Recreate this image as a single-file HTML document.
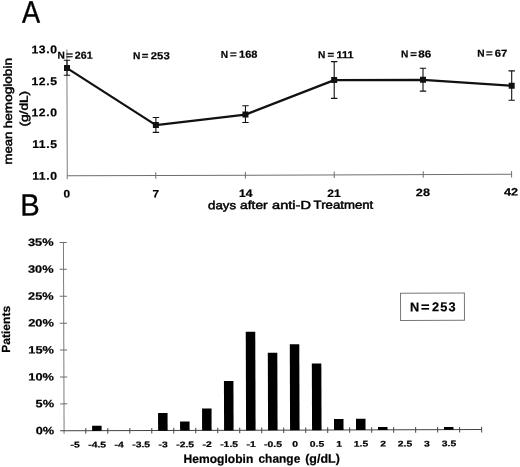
<!DOCTYPE html>
<html><head><meta charset="utf-8"><title>Figure</title>
<style>html,body{margin:0;padding:0;background:#fff;}svg{display:block;will-change:transform;}text{font-family:"Liberation Sans", sans-serif;fill:#000;}.b{font-weight:bold;stroke:#000;stroke-width:0.2;}.t{font-weight:normal;stroke:#000;stroke-width:0.48;}.ax{stroke:#6e6e6e;stroke-width:1;fill:none;}.ay{stroke:#7c7c7c;stroke-width:1;fill:none;}.axd{stroke:#444;stroke-width:1;fill:none;}.eb{stroke:#111;stroke-width:1.1;fill:none;}</style></head><body>
<svg width="520" height="467" viewBox="0 0 520 467">
<rect width="520" height="467" fill="#fff"/>
<g transform="rotate(-0.1891)">
<text transform="translate(21.92 22.87) scale(0.870 1)" font-size="31.20" text-anchor="start" stroke="#000" stroke-width="0.35">A</text>
<text transform="translate(19.49 215.67) scale(0.960 1)" font-size="30.50" text-anchor="start" stroke="#000" stroke-width="0.3">B</text>
<path class="ay" d="M66.70 49.40 V179.40"/>
<path class="ax" d="M66.70 176.00 H511.00"/>
<path class="ax" d="M155.17 172.70 V179.20M244.82 172.70 V179.20M333.67 172.70 V179.20M422.67 172.70 V179.20M511.02 172.70 V179.20"/>
<text class="b" transform="translate(57.42 53.49) scale(1.090 1)" font-size="11.20" text-anchor="end" letter-spacing="0.55">13.0</text>
<text class="b" transform="translate(57.32 85.29) scale(1.090 1)" font-size="11.20" text-anchor="end" letter-spacing="0.55">12.5</text>
<text class="b" transform="translate(57.22 116.49) scale(1.090 1)" font-size="11.20" text-anchor="end" letter-spacing="0.55">12.0</text>
<text class="b" transform="translate(57.11 148.19) scale(1.090 1)" font-size="11.20" text-anchor="end" letter-spacing="0.55">11.5</text>
<text class="b" transform="translate(57.01 179.89) scale(1.090 1)" font-size="11.20" text-anchor="end" letter-spacing="0.55">11.0</text>
<path class="eb" d="M66.80 60.52 L66.75 75.52 M63.60 60.52 H70.00 M63.55 75.52 H69.95M155.51 118.01 L155.46 132.91 M152.31 118.01 H158.71 M152.26 132.91 H158.66M245.10 106.61 L245.05 123.31 M241.90 106.61 H248.30 M241.85 123.31 H248.25M334.00 62.70 L333.88 99.50 M330.80 62.70 H337.20 M330.68 99.50 H337.08M422.77 69.70 L422.70 92.50 M419.57 69.70 H425.97 M419.50 92.50 H425.90M511.47 72.59 L511.37 101.89 M508.27 72.59 H514.67 M508.17 101.89 H514.57"/>
<polyline fill="none" stroke="#111" stroke-width="2.25" stroke-linejoin="round" points="66.78,68.32 155.49,125.61 245.07,115.41 333.94,81.20 422.74,81.20 511.42,87.39"/>
<rect x="63.78" y="65.32" width="6" height="6" fill="#111"/>
<rect x="152.49" y="122.61" width="6" height="6" fill="#111"/>
<rect x="242.07" y="112.41" width="6" height="6" fill="#111"/>
<rect x="330.94" y="78.20" width="6" height="6" fill="#111"/>
<rect x="419.74" y="78.20" width="6" height="6" fill="#111"/>
<rect x="508.42" y="84.39" width="6" height="6" fill="#111"/>
<text class="b" font-size="10.2" y="58.99"><tspan x="57.26">N</tspan><tspan x="66.16" textLength="6.7" lengthAdjust="spacingAndGlyphs">=</tspan><tspan x="74.61" textLength="17.86" lengthAdjust="spacingAndGlyphs">261</tspan></text>
<text class="b" font-size="10.2" y="59.74"><tspan x="132.70">N</tspan><tspan x="141.65" textLength="6.7" lengthAdjust="spacingAndGlyphs">=</tspan><tspan x="150.60" textLength="18.97" lengthAdjust="spacingAndGlyphs">253</tspan></text>
<text class="b" font-size="10.2" y="58.63"><tspan x="220.56">N</tspan><tspan x="229.76" textLength="6.7" lengthAdjust="spacingAndGlyphs">=</tspan><tspan x="238.91" textLength="18.37" lengthAdjust="spacingAndGlyphs">168</tspan></text>
<text class="b" font-size="10.2" y="59.35"><tspan x="317.76">N</tspan><tspan x="327.26" textLength="6.7" lengthAdjust="spacingAndGlyphs">=</tspan><tspan x="336.41" textLength="16.96" lengthAdjust="spacingAndGlyphs">111</tspan></text>
<text class="b" font-size="10.2" y="58.93"><tspan x="400.76">N</tspan><tspan x="410.06" textLength="6.7" lengthAdjust="spacingAndGlyphs">=</tspan><tspan x="418.01" textLength="12.96" lengthAdjust="spacingAndGlyphs">86</tspan></text>
<text class="b" font-size="10.2" y="58.38"><tspan x="477.06">N</tspan><tspan x="485.86" textLength="6.7" lengthAdjust="spacingAndGlyphs">=</tspan><tspan x="494.61" textLength="12.57" lengthAdjust="spacingAndGlyphs">67</tspan></text>
<text class="b" transform="translate(66.15 197.72) scale(1.100 1)" font-size="10.80" text-anchor="middle">0</text>
<text class="b" transform="translate(155.25 198.01) scale(1.100 1)" font-size="10.80" text-anchor="middle">7</text>
<text class="b" transform="translate(245.00 197.91) scale(1.120 1)" font-size="10.80" text-anchor="middle">14</text>
<text class="b" transform="translate(333.30 198.00) scale(1.120 1)" font-size="10.80" text-anchor="middle">21</text>
<text class="b" transform="translate(422.25 197.50) scale(1.180 1)" font-size="10.80" text-anchor="middle">28</text>
<text class="b" transform="translate(510.45 197.29) scale(1.180 1)" font-size="10.80" text-anchor="middle">42</text>
<text class="t" transform="translate(207.96 209.89)" font-size="11.60"><tspan x="-0.58" textLength="28.01" lengthAdjust="spacingAndGlyphs">days</tspan> <tspan x="31.47" textLength="27.56" lengthAdjust="spacingAndGlyphs">after</tspan> <tspan x="63.47" textLength="38.86" lengthAdjust="spacingAndGlyphs">anti-D</tspan> <tspan x="104.97" textLength="59.66" lengthAdjust="spacingAndGlyphs">Treatment</tspan></text>
<text class="t" transform="translate(11.56 164.04) rotate(-90)" font-size="11.60"><tspan x="-0.58" textLength="33.06" lengthAdjust="spacingAndGlyphs">mean</tspan> <tspan x="35.72" textLength="70.26" lengthAdjust="spacingAndGlyphs">hemoglobin</tspan></text>
<text class="t" transform="translate(27.48 126.59) rotate(-90)" font-size="11.4" textLength="35.6" lengthAdjust="spacingAndGlyphs">(g/dL)</text>
<path class="ay" d="M62.65 242.63 V434.20"/>
<path class="axd" d="M58.75 431.00 H480.21"/>
<path class="axd" d="M84.39 428.40 V434.00M106.38 428.40 V434.00M128.37 428.40 V434.00M150.36 428.40 V434.00M172.35 428.40 V434.00M194.34 428.40 V434.00M216.33 428.40 V434.00M238.32 428.40 V434.00M260.31 428.40 V434.00M282.30 428.40 V434.00M304.29 428.40 V434.00M326.28 428.40 V434.00M348.27 428.40 V434.00M370.26 428.40 V434.00M392.25 428.40 V434.00M414.24 428.40 V434.00M436.23 428.40 V434.00M458.22 428.40 V434.00M480.21 428.40 V434.00"/>
<path class="ax" d="M58.75 404.09 H65.95M58.75 377.18 H65.95M58.75 350.27 H65.95M58.75 323.36 H65.95M58.75 296.45 H65.95M58.75 269.54 H65.95M58.75 242.63 H65.95"/>
<text class="b" transform="translate(52.75 434.35) scale(1.210 1)" font-size="10.60" text-anchor="end">0%</text>
<text class="b" transform="translate(52.75 407.44) scale(1.210 1)" font-size="10.60" text-anchor="end">5%</text>
<text class="b" transform="translate(52.75 380.53) scale(1.210 1)" font-size="10.60" text-anchor="end">10%</text>
<text class="b" transform="translate(52.75 353.62) scale(1.210 1)" font-size="10.60" text-anchor="end">15%</text>
<text class="b" transform="translate(52.75 326.71) scale(1.210 1)" font-size="10.60" text-anchor="end">20%</text>
<text class="b" transform="translate(52.75 299.80) scale(1.210 1)" font-size="10.60" text-anchor="end">25%</text>
<text class="b" transform="translate(52.75 272.89) scale(1.210 1)" font-size="10.60" text-anchor="end">30%</text>
<text class="b" transform="translate(52.75 245.98) scale(1.210 1)" font-size="10.60" text-anchor="end">35%</text>
<rect x="90.73" y="426.07" width="9.5" height="5.13" fill="#000"/>
<rect x="156.70" y="413.54" width="9.5" height="17.66" fill="#000"/>
<rect x="178.69" y="422.11" width="9.5" height="9.09" fill="#000"/>
<rect x="200.69" y="409.18" width="9.5" height="22.02" fill="#000"/>
<rect x="222.67" y="381.75" width="9.5" height="49.45" fill="#000"/>
<rect x="244.66" y="332.58" width="9.5" height="98.62" fill="#000"/>
<rect x="266.65" y="353.65" width="9.5" height="77.55" fill="#000"/>
<rect x="288.64" y="345.22" width="9.5" height="85.98" fill="#000"/>
<rect x="310.63" y="364.54" width="9.5" height="66.66" fill="#000"/>
<rect x="332.62" y="420.12" width="9.5" height="11.08" fill="#000"/>
<rect x="354.61" y="419.94" width="9.5" height="11.26" fill="#000"/>
<rect x="376.60" y="428.26" width="9.5" height="2.94" fill="#000"/>
<rect x="442.57" y="428.38" width="9.5" height="2.82" fill="#000"/>
<text class="b" transform="translate(73.69 447.80) scale(1.270 1)" font-size="8.20" text-anchor="middle">-5</text>
<text class="b" transform="translate(95.68 447.80) scale(1.270 1)" font-size="8.20" text-anchor="middle">-4.5</text>
<text class="b" transform="translate(117.67 447.80) scale(1.270 1)" font-size="8.20" text-anchor="middle">-4</text>
<text class="b" transform="translate(139.66 447.80) scale(1.270 1)" font-size="8.20" text-anchor="middle">-3.5</text>
<text class="b" transform="translate(161.66 447.80) scale(1.270 1)" font-size="8.20" text-anchor="middle">-3</text>
<text class="b" transform="translate(183.65 447.80) scale(1.270 1)" font-size="8.20" text-anchor="middle">-2.5</text>
<text class="b" transform="translate(205.64 447.80) scale(1.270 1)" font-size="8.20" text-anchor="middle">-2</text>
<text class="b" transform="translate(227.62 447.80) scale(1.270 1)" font-size="8.20" text-anchor="middle">-1.5</text>
<text class="b" transform="translate(249.62 447.80) scale(1.270 1)" font-size="8.20" text-anchor="middle">-1</text>
<text class="b" transform="translate(271.60 447.80) scale(1.270 1)" font-size="8.20" text-anchor="middle">-0.5</text>
<text class="b" transform="translate(293.59 447.80) scale(1.270 1)" font-size="8.20" text-anchor="middle">0</text>
<text class="b" transform="translate(315.58 447.80) scale(1.270 1)" font-size="8.20" text-anchor="middle">0.5</text>
<text class="b" transform="translate(337.57 447.80) scale(1.270 1)" font-size="8.20" text-anchor="middle">1</text>
<text class="b" transform="translate(359.56 447.80) scale(1.270 1)" font-size="8.20" text-anchor="middle">1.5</text>
<text class="b" transform="translate(381.55 447.80) scale(1.270 1)" font-size="8.20" text-anchor="middle">2</text>
<text class="b" transform="translate(403.54 447.80) scale(1.270 1)" font-size="8.20" text-anchor="middle">2.5</text>
<text class="b" transform="translate(425.53 447.80) scale(1.270 1)" font-size="8.20" text-anchor="middle">3</text>
<text class="b" transform="translate(447.52 447.80) scale(1.270 1)" font-size="8.20" text-anchor="middle">3.5</text>
<text class="b" transform="translate(182.67 463.71)" font-size="12.20"><tspan x="-0.61" textLength="69.72" lengthAdjust="spacingAndGlyphs">Hemoglobin</tspan> <tspan x="74.29" textLength="41.82" lengthAdjust="spacingAndGlyphs">change</tspan> <tspan x="120.99" textLength="34.62" lengthAdjust="spacingAndGlyphs">(g/dL)</tspan></text>
<text class="b" transform="translate(8.94 352.83) rotate(-90)" font-size="11.7" textLength="47" lengthAdjust="spacingAndGlyphs">Patients</text>
<rect x="399.53" y="294.52" width="63.9" height="27.2" fill="#fff" stroke="#777" stroke-width="1"/>
<text class="b" font-size="12.8" y="312.75"><tspan x="408.92">N</tspan><tspan x="419.97" textLength="8.6" lengthAdjust="spacingAndGlyphs">=</tspan><tspan x="431.07" letter-spacing="1.1">253</tspan></text>
</g>
</svg></body></html>
